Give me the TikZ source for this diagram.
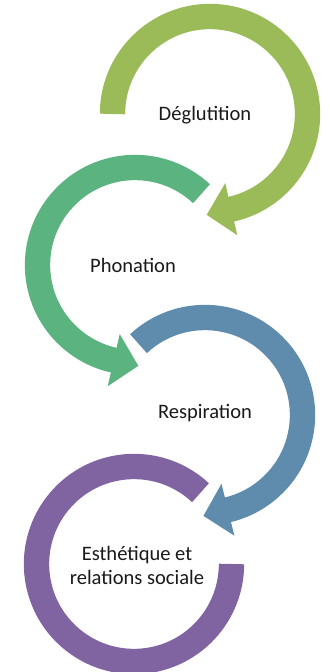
\documentclass[tikz,border=0pt]{standalone}
\usepackage{fontspec}
\setmainfont{Carlito}
\usepackage{tikz}
\usetikzlibrary{arrows.meta}

\definecolor{olive}{HTML}{9BBB59}
\definecolor{leaf}{HTML}{5BB37F}
\definecolor{steel}{HTML}{5F8BAD}
\definecolor{plum}{HTML}{8064A2}

\begin{document}
\begin{tikzpicture}[x=0.75pt,y=0.75pt,
	ring/.style = {line width=19pt},
	tipped/.style = {-{Triangle[width=39pt,length=19pt]}},
	lbl/.style = {align = center, font=\fontsize{15.4}{18}\selectfont, text=black!90}]
	\useasboundingbox (0,0) rectangle (329,672);
	\coordinate (c1) at (210,558);
	\coordinate (c2) at (135,407);
	\coordinate (c3) at (205,257);
	\coordinate (c4) at (134,108);

	% each ring ends with a short straight piece carrying the tip
	\draw[ring,tipped,olive] ([shift={(180:97.5)}]c1) arc[start angle=180, end angle=-77, radius=97.5] -- ++(-167:26);
	\draw[ring,tipped,leaf] ([shift={(47:97.5)}]c2) arc[start angle=47, end angle=257, radius=97.5] -- ++(347:26);
	\draw[ring,tipped,steel] ([shift={(133:97.5)}]c3) arc[start angle=133, end angle=-76, radius=97.5] -- ++(-166:26);
	\draw[ring,plum] ([shift={(47:97.5)}]c4) arc[start angle=47, end angle=360, radius=97.5];

	\node [lbl] (deg) at (205,557) {Déglutition};
	\node [lbl] (pho) at (133,407) {Phonation};
	\node [lbl] (res) at (205,259) {Respiration};
	\node [lbl] (est) at (137,107) {Esthétique et\\relations sociale};
\end{tikzpicture}
\end{document}
